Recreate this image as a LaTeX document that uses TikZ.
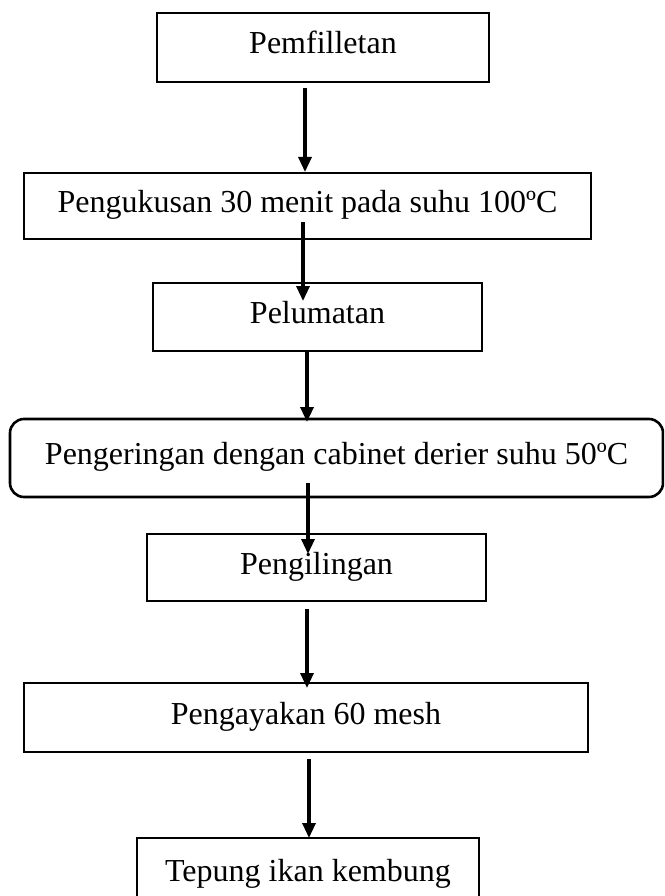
\documentclass[tikz,border=0pt]{standalone}
\usepackage{fontspec}
\setmainfont{Liberation Serif}
\usetikzlibrary{arrows.meta}
\begin{document}
\begin{tikzpicture}[x=1pt,y=-1pt,
  stepbox/.style={draw=black, line width=2.6pt, rectangle, inner sep=0pt,
    text height=21pt, text depth=8pt, font=\fontsize{32}{38}\selectfont},
  roundbox/.style={stepbox, rounded corners=14pt},
  flow/.style={line width=3.2pt, -{Triangle[length=15pt,width=13pt]}}]
\clip (0,0) rectangle (664,896);
\fill[white] (0,0) rectangle (664,896);

\node[stepbox, minimum width=332pt, minimum height=69pt] (b1) at (323,47.5) {Pemfilletan};
\node[stepbox, minimum width=567pt, minimum height=66pt] (b2) at (307.5,206) {Pengukusan 30 menit pada suhu 100ºC};
\node[stepbox, minimum width=329pt, minimum height=68pt] (b3) at (317.5,317) {Pelumatan};
\node[roundbox, minimum width=653pt, minimum height=78pt] (b4) at (336.5,458) {Pengeringan dengan cabinet derier suhu 50ºC};
\node[stepbox, minimum width=339pt, minimum height=67pt] (b5) at (316.5,567.5) {Pengilingan};
\node[stepbox, minimum width=564pt, minimum height=69pt] (b6) at (306,717.5) {Pengayakan 60 mesh};
\node[stepbox, minimum width=342pt, minimum height=74pt] (b7) at (308,875) {Tepung ikan kembung};

\coordinate (s1) at (305,88);   \coordinate (e1) at (305,172);
\coordinate (s2) at (303,222);  \coordinate (e2) at (303,301);
\coordinate (s3) at (307,352);  \coordinate (e3) at (307,422);
\coordinate (s4) at (308,483);  \coordinate (e4) at (308,554);
\coordinate (s5) at (307,609);  \coordinate (e5) at (307,688);
\coordinate (s6) at (309,759);  \coordinate (e6) at (309,838);

\draw[flow] (s1) -- (e1);
\draw[flow] (s2) -- (e2);
\draw[flow] (s3) -- (e3);
\draw[flow] (s4) -- (e4);
\draw[flow] (s5) -- (e5);
\draw[flow] (s6) -- (e6);
\end{tikzpicture}
\end{document}
